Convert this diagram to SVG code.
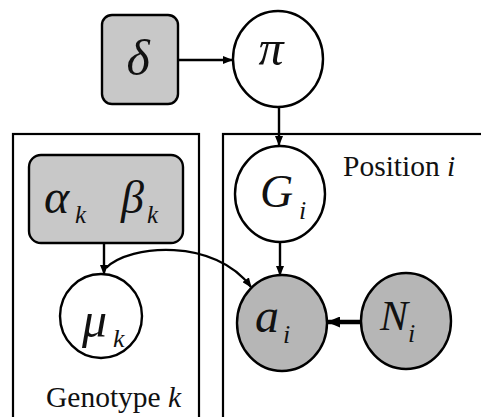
<svg xmlns="http://www.w3.org/2000/svg" width="481" height="417" viewBox="0 0 481 417">
<style>
.plate{fill:none;stroke:#000;stroke-width:2.2}
.node{stroke:#000;stroke-width:2.4}
.w{fill:#fff}
.g{fill:#b6b6b6}
.gb{fill:#c8c8c8}
.edge{fill:none;stroke:#000;stroke-width:2.4}
</style>
<defs>
<marker id="ah" markerWidth="10" markerHeight="8" refX="9" refY="4" orient="auto" markerUnits="userSpaceOnUse">
<path d="M0,0 L10,4 L0,8 Z" fill="#000"/>
</marker>
<marker id="ahb" markerWidth="13" markerHeight="11" refX="12" refY="5.5" orient="auto" markerUnits="userSpaceOnUse">
<path d="M0,0 L13,5.5 L0,11 Z" fill="#000"/>
</marker>
</defs>
<g font-family="Liberation Serif, DejaVu Serif, serif" fill="#111">
<g id="plate-genotype">
<rect class="plate" x="13" y="134" width="186" height="300"/>
<text x="46" y="407" font-size="29.5">Genotype <tspan font-style="italic">k</tspan></text>
</g>
<g id="plate-position">
<rect class="plate" x="223" y="134" width="280" height="300"/>
<text x="343" y="176" font-size="29.5">Position <tspan font-style="italic">i</tspan></text>
</g>
<g id="connectors">
<line class="edge" x1="178" y1="60" x2="232" y2="60" marker-end="url(#ah)"/>
<line class="edge" x1="279" y1="107" x2="279" y2="145" marker-end="url(#ah)"/>
<line class="edge" x1="104" y1="243" x2="104" y2="274" marker-end="url(#ah)"/>
<line class="edge" x1="280" y1="242" x2="280" y2="275" marker-end="url(#ah)"/>
<path class="edge" d="M106,268 C130,244 215,238 251,287" marker-end="url(#ah)"/>
<line x1="361" y1="322" x2="328" y2="322" stroke="#000" stroke-width="4.5" marker-end="url(#ahb)"/>
</g>
<g font-style="italic">
<g id="delta">
<rect class="node gb" x="102" y="15" width="76" height="89" rx="10"/>
<text x="138" y="75" font-size="50" text-anchor="middle" fill="#111">δ</text>
</g>
<g id="pi">
<ellipse class="node w" cx="278" cy="59" rx="45" ry="48"/>
<text x="271" y="65" font-size="50" text-anchor="middle" fill="#111">π</text>
</g>
<g id="alphabeta">
<rect class="node gb" x="29" y="155" width="154" height="88" rx="12"/>
<text x="44" y="213" font-size="48" fill="#111">α</text>
<text x="75" y="223" font-size="25" fill="#111">k</text>
<text x="121" y="213" font-size="46" fill="#111">β</text>
<text x="147" y="223" font-size="25" fill="#111">k</text>
</g>
<g id="mu">
<ellipse class="node w" cx="101" cy="316" rx="41" ry="42"/>
<text x="82" y="337" font-size="50" fill="#111">μ</text>
<text x="113" y="347" font-size="26" fill="#111">k</text>
</g>
<g id="G">
<ellipse class="node w" cx="280" cy="194" rx="45" ry="48"/>
<text x="260" y="207" font-size="46" fill="#111">G</text>
<text x="299" y="219" font-size="26" fill="#111">i</text>
</g>
<g id="a">
<ellipse class="node g" cx="282" cy="323" rx="45" ry="48"/>
<text x="255" y="332" font-size="48" fill="#111">a</text>
<text x="283" y="343" font-size="26" fill="#111">i</text>
</g>
<g id="N">
<ellipse class="node g" cx="406" cy="321" rx="45" ry="48"/>
<text x="380" y="330" font-size="42" fill="#111">N</text>
<text x="408" y="342" font-size="26" fill="#111">i</text>
</g>
</g>
</g>
</svg>
